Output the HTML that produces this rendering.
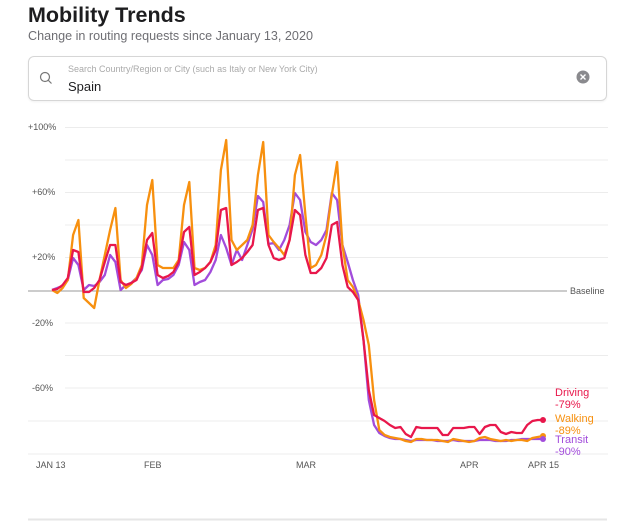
<!DOCTYPE html>
<html><head><meta charset="utf-8"><style>
body{margin:0;width:640px;height:529px;background:#fff;font-family:"Liberation Sans",sans-serif;position:relative;overflow:hidden}
.t{position:absolute;left:28px;top:3px;font-size:21.5px;font-weight:bold;color:#1d1d1f}
.s{position:absolute;left:28px;top:29px;font-size:12.6px;color:#6e6e73}
.box{position:absolute;left:28px;top:56px;width:577px;height:43px;border:1px solid #d6d6d6;border-radius:6px;box-shadow:0 1px 2px rgba(0,0,0,.06)}
.ph{position:absolute;left:39px;top:7px;font-size:9px;color:#aaa}
.sp{position:absolute;left:39px;top:22px;font-size:13px;color:#1d1d1f}
svg{position:absolute;left:0;top:0}
</style></head><body>
<div class="t">Mobility Trends</div>
<div class="s">Change in routing requests since January 13, 2020</div>
<div class="box"><div class="ph">Search Country/Region or City (such as Italy or New York City)</div><div class="sp">Spain</div></div>
<svg width="640" height="529" id="c" font-family="Liberation Sans, sans-serif">
<circle cx="45" cy="77" r="4.5" fill="none" stroke="#777" stroke-width="1.2"/><line x1="48.3" y1="80.3" x2="51.5" y2="83.5" stroke="#777" stroke-width="1.2"/>
<circle cx="583" cy="77" r="6.5" fill="#8a8a8e"/><path d="M580.5 74.5l5 5M585.5 74.5l-5 5" stroke="#fff" stroke-width="1.4"/>
<g stroke="#ececec" stroke-width="1">
<line x1="65" y1="127.5" x2="608" y2="127.5"/><line x1="65" y1="160" x2="608" y2="160"/><line x1="65" y1="192.5" x2="608" y2="192.5"/><line x1="65" y1="225" x2="608" y2="225"/><line x1="65" y1="257.5" x2="608" y2="257.5"/><line x1="65" y1="323" x2="608" y2="323"/><line x1="65" y1="355.5" x2="608" y2="355.5"/><line x1="65" y1="388" x2="608" y2="388"/><line x1="28" y1="421" x2="608" y2="421"/><line x1="28" y1="454" x2="608" y2="454"/>
</g>
<line x1="28" y1="519.5" x2="607" y2="519.5" stroke="#e6e6e6" stroke-width="2"/>
<line x1="28" y1="291" x2="567" y2="291" stroke="#999" stroke-width="1"/>
<g font-size="9" fill="#555">
<text x="28" y="130">+100%</text><text x="32" y="195">+60%</text><text x="32" y="260">+20%</text><text x="32" y="326">-20%</text><text x="32" y="391">-60%</text>
<text x="570" y="294">Baseline</text>
<text x="36" y="468">JAN 13</text><text x="144" y="468">FEB</text><text x="296" y="468">MAR</text><text x="460" y="468">APR</text><text x="528" y="468">APR 15</text>
</g>
<g font-size="11">
<text x="555" y="396" fill="#e8174b">Driving</text><text x="555" y="408" fill="#e8174b">-79%</text>
<text x="555" y="422" fill="#f7900f">Walking</text><text x="555" y="434" fill="#f7900f">-89%</text>
<text x="555" y="443" fill="#a24cdb">Transit</text><text x="555" y="455" fill="#a24cdb">-90%</text>
</g>
<polyline id="T" fill="none" stroke="#a24cdb" stroke-width="2.3" stroke-linejoin="round"/>
<polyline id="W" fill="none" stroke="#f7900f" stroke-width="2.3" stroke-linejoin="round"/>
<polyline id="D" fill="none" stroke="#e8174b" stroke-width="2.3" stroke-linejoin="round"/>
<circle cx="543" cy="420" r="3" fill="#e8174b"/><circle cx="543" cy="436" r="3" fill="#f7900f"/><circle cx="543" cy="439" r="3" fill="#a24cdb"/>
</svg>
<script>
var W=[290,293,288,280,235,220,298,303,308,280,255,230,208,280,288,284,278,265,205,180,265,268,268,268,260,205,182,268,270,268,262,245,170,140,240,250,245,240,225,175,142,235,242,248,255,240,175,155,215,268,265,255,235,195,162,245,280,287,300,320,345,400,430,435,437,438,439,441,442,439,439,440,440,440,441,442,439,440,441,442,441,438,437,439,440,441,440,441,440,440,441,438,437,436];
var D=[290,289,285,278,250,252,292,292,288,280,262,245,245,282,285,283,280,268,240,233,275,278,276,272,262,232,227,275,272,268,262,250,210,208,265,262,258,252,245,210,208,245,258,260,258,240,210,215,255,273,273,268,258,225,222,265,287,292,300,340,390,415,418,421,425,428,427,434,437,427,428,428,428,428,435,435,428,428,428,427,427,434,427,425,425,432,434,432,433,433,425,421,420,420];
var T=[290,288,286,280,258,265,290,285,286,282,275,255,262,290,285,283,278,270,245,255,285,280,279,275,265,242,250,285,282,280,272,260,235,248,265,250,260,245,229,196,202,244,243,250,240,225,193,200,232,242,245,240,230,193,200,245,262,280,295,340,400,425,433,436,438,439,439,440,441,440,440,440,440,441,441,441,440,441,441,441,441,440,440,440,441,441,441,440,440,439,439,439,439,439];
function pts(a){var s="";for(var i=0;i<a.length&&i<94;i++){var x=52+i*(491/93);s+=x.toFixed(1)+","+a[i]+" ";}return s;}
document.getElementById("W").setAttribute("points",pts(W));
document.getElementById("D").setAttribute("points",pts(D));
document.getElementById("T").setAttribute("points",pts(T));
</script>
</body></html>
